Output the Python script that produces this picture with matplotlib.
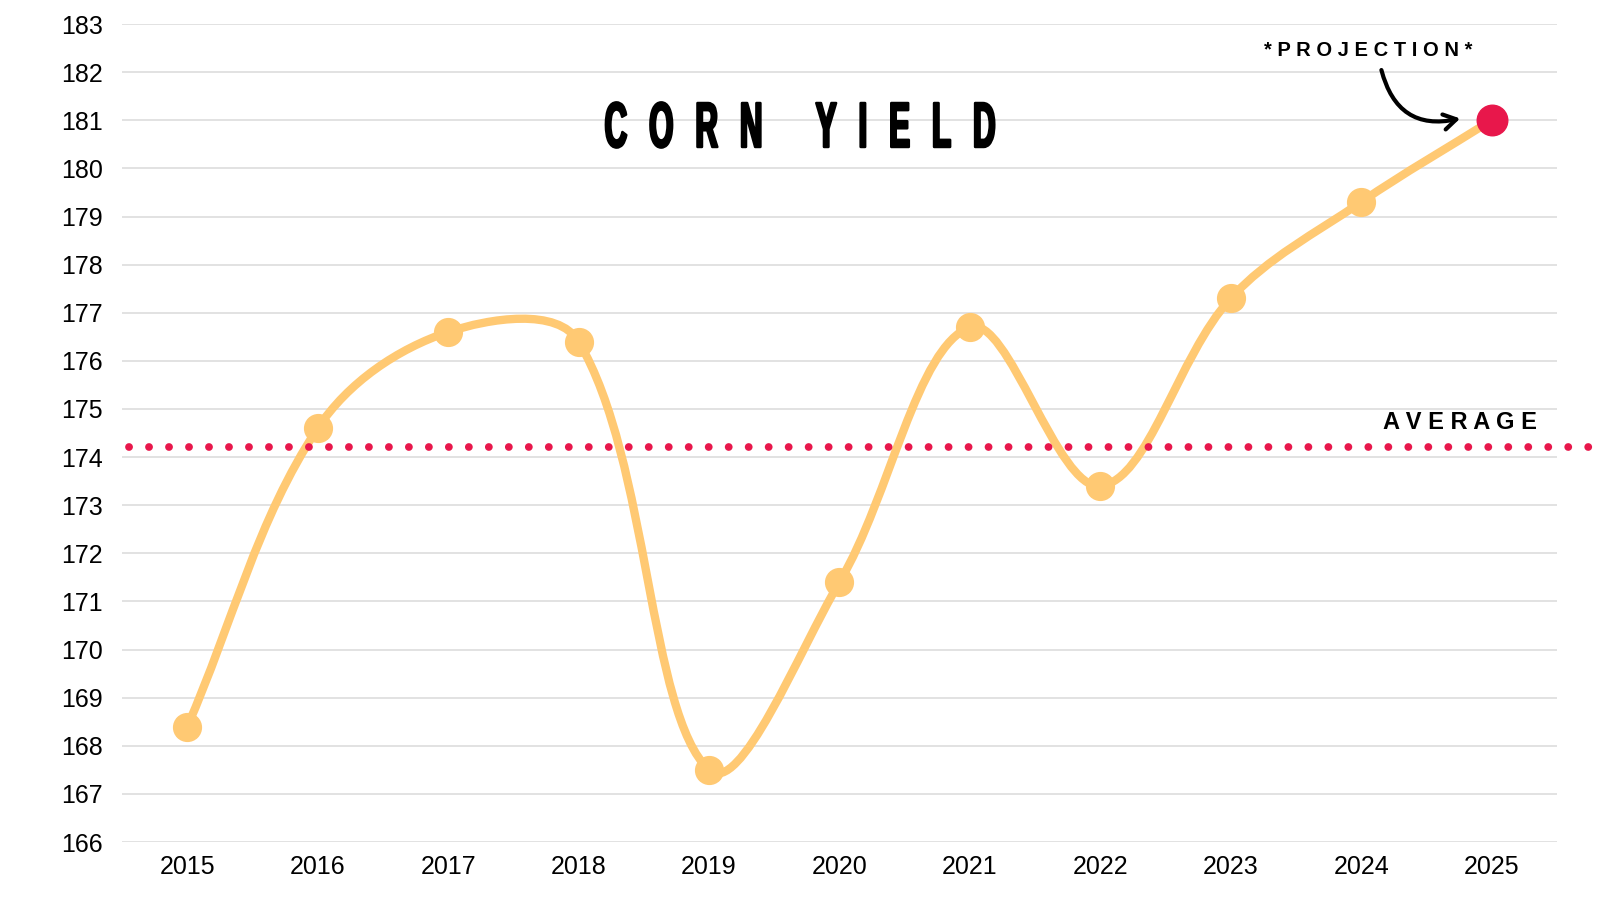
#!/usr/bin/env python3
"""Corn yield line chart (matplotlib only)."""

import numpy as np
import matplotlib.pyplot as plt
from matplotlib.path import Path
from matplotlib.patches import PathPatch
from matplotlib.patheffects import AbstractPathEffect
from matplotlib.transforms import Affine2D

# -------------------- DATA --------------------
YEARS = [2015, 2016, 2017, 2018, 2019, 2020, 2021, 2022, 2023, 2024, 2025]
YIELD = [168.4, 174.6, 176.6, 176.4, 167.5, 171.4, 176.7, 173.4, 177.3, 179.3, 181.0]
AVERAGE = 174.2
Y_TICKS = list(range(166, 184))

ORANGE = "#FFC973"
RED = "#E8174B"
GRID = "#DADADA"

W, H = 16, 9
DPI = 100
plt.rcParams["font.family"] = ["Liberation Sans", "DejaVu Sans"]


# -------------------- HELPERS --------------------
def _spline_path(x, y, sx, sy, tension=0.35):
    """Smooth bezier through the points (control points computed in pixel space)."""
    P = np.column_stack([np.asarray(x, float) * sx, np.asarray(y, float) * sy])
    n = len(P)
    cp_in, cp_out = [], []
    for i in range(n):
        prev, cur, nxt = P[max(i - 1, 0)], P[i], P[min(i + 1, n - 1)]
        d01 = np.hypot(*(cur - prev))
        d12 = np.hypot(*(nxt - cur))
        s01, s12 = d01 / (d01 + d12), d12 / (d01 + d12)
        cp_in.append(cur - tension * s01 * (nxt - prev))
        cp_out.append(cur + tension * s12 * (nxt - prev))
    verts, codes = [P[0]], [Path.MOVETO]
    for i in range(n - 1):
        verts += [cp_out[i], cp_in[i + 1], P[i + 1]]
        codes += [Path.CURVE4] * 3
    return Path(np.array(verts) / [sx, sy], codes)


class _Squeeze(AbstractPathEffect):
    """Narrow glyphs horizontally about a fixed x and thicken them a bit."""

    def __init__(self, sx, x_frac, lw):
        super().__init__()
        self.sx, self.x_frac, self.lw = sx, x_frac, lw

    def draw_path(self, renderer, gc, tpath, affine, rgbFace=None):
        cx = self.x_frac * renderer.width
        sq = Affine2D().translate(-cx, 0).scale(self.sx, 1).translate(cx, 0)
        gc0 = renderer.new_gc()
        gc0.copy_properties(gc)
        gc0.set_linewidth(self.lw)
        gc0.set_foreground(rgbFace)
        gc0.set_joinstyle("round")
        renderer.draw_path(gc0, tpath, affine + sq, rgbFace)
        gc0.restore()


# -------------------- FIGURE --------------------
fig = plt.figure(figsize=(W, H), dpi=DPI)
ax = fig.add_axes([0.0763, 0.0644, 0.973 - 0.0763, 0.9733 - 0.0644])

XLIM, YLIM = (2014.5, 2025.5), (166, 183)
ax.set_xlim(*XLIM)
ax.set_ylim(*YLIM)
ax.set_yticks(Y_TICKS)
ax.set_xticks(YEARS)
ax.tick_params(axis="y", length=0, pad=14, labelsize=18)
ax.tick_params(axis="x", length=0, pad=9, labelsize=18)
for s in ax.spines.values():
    s.set_visible(False)
ax.grid(axis="y", color=GRID, lw=1.1, zorder=0)
ax.set_axisbelow(True)

# smooth yield line
pos = ax.get_position()
px_x = pos.width * W * DPI / (XLIM[1] - XLIM[0])
px_y = pos.height * H * DPI / (YLIM[1] - YLIM[0])
ax.add_patch(PathPatch(_spline_path(YEARS, YIELD, px_x, px_y), fill=False,
                       ec=ORANGE, lw=6, capstyle="round", joinstyle="round", zorder=2))
ax.plot(YEARS[:-1], YIELD[:-1], "o", color=ORANGE, ms=20, zorder=3)
ax.plot(YEARS[-1:], YIELD[-1:], "o", color=RED, ms=22, zorder=4)

# dotted average line running past the right edge
ax.plot([2014.55, 2025.9], [AVERAGE, AVERAGE], color=RED, lw=5.6,
        linestyle=(0, (0.01, 2.56)), dash_capstyle="round", clip_on=False, zorder=5)

# title and labels
GAP = "\u2002\u2009"
title = GAP.join("CORN") + "\u2003\u2002\u2009" + GAP.join("YIELD")
fig.text(0.5, 0.8367, title, ha="center", va="baseline", fontsize=46,
         fontweight="bold", color="black",
         path_effects=[_Squeeze(0.49, 0.5, 1.8)])
fig.text(0.9125, 0.5233, "A V E R A G E", ha="center", va="baseline",
         fontsize=17, fontweight="bold", color="black")
fig.text(0.855, 0.9381, "* P R O J E C T I O N *", ha="center", va="baseline",
         fontsize=14.5, fontweight="bold", color="black")

# curved arrow pointing at the projected value
ax.annotate("", xy=(2024.78, 181.05), xytext=(2024.15, 182.1),
            arrowprops=dict(arrowstyle="->,head_length=0.9,head_width=0.55",
                            connectionstyle="arc3,rad=0.5", lw=3, color="black"),
            zorder=6)

fig.savefig("out.png", dpi=DPI)
